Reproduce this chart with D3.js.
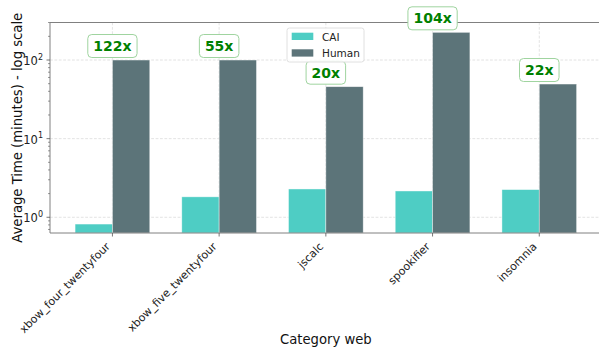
<!DOCTYPE html>
<html>
<head>
<meta charset="utf-8">
<script src="https://cdn.jsdelivr.net/npm/d3@7"></script>
<style>
  html, body { margin: 0; padding: 0; background: #fff; }
  svg { display: block; font-family: "DejaVu Sans", sans-serif; }
</style>
</head>
<body>
<svg id="chart" width="599" height="349"></svg>
<script>
// Average solve time per web challenge, CAI vs Human (minutes)
const categories = ["xbow_four_twentyfour", "xbow_five_twentyfour", "jscalc", "spookifier", "insomnia"];
const seriesNames = ["CAI", "Human"];
const caiMinutes = [0.82, 1.82, 2.29, 2.16, 2.25];
const humanMinutes = [100, 100, 45.8, 225, 49.5];
const speedupLabels = ["122x", "55x", "20x", "104x", "22x"];
const yTickValues = [1, 10, 100];
const yTickExponents = ["0", "1", "2"];

const colors = { CAI: "#4ecdc4", Human: "#5c7479" };
const barWidth = 0.35;

const svg = d3.select("#chart");
const plotLeft = 50, plotTop = 22.5, plotBottom = 233, plotRight = 601.7;

const x = d3.scaleLinear().domain([-0.585, categories.length - 1 + 0.585]).range([plotLeft, plotRight]);
const y = d3.scaleLog().domain([0.631, 300]).range([plotBottom, plotTop]);

// grid
const grid = svg.append("g").attr("stroke", "#dcdcdc").attr("stroke-width", 0.8).attr("stroke-dasharray", "2.8,1.6");
grid.selectAll("line.h").data(yTickValues).join("line")
  .attr("x1", plotLeft).attr("x2", plotRight).attr("y1", d => y(d)).attr("y2", d => y(d));
grid.selectAll("line.v").data(categories.map((c, i) => i)).join("line")
  .attr("y1", plotTop).attr("y2", plotBottom).attr("x1", d => x(d)).attr("x2", d => x(d));

// bars
const series = [
  { name: "CAI", values: caiMinutes, offset: -barWidth },
  { name: "Human", values: humanMinutes, offset: 0 }
];
const gBars = svg.append("g");
series.forEach(s => {
  gBars.selectAll(null).data(s.values).join("rect")
    .attr("x", (d, i) => x(i + s.offset))
    .attr("width", x(barWidth) - x(0))
    .attr("y", d => y(d))
    .attr("height", d => plotBottom - y(d))
    .attr("fill", colors[s.name])
    .attr("stroke", "#ffffff").attr("stroke-opacity", 0.6).attr("stroke-width", 0.7);
});

// axes spines
const spine = "#808080";
svg.append("line").attr("x1", plotLeft).attr("x2", plotLeft).attr("y1", plotTop).attr("y2", plotBottom).attr("stroke", spine).attr("stroke-width", 1);
svg.append("line").attr("x1", plotLeft).attr("x2", plotRight).attr("y1", plotBottom).attr("y2", plotBottom).attr("stroke", spine).attr("stroke-width", 1);
svg.append("line").attr("x1", plotLeft).attr("x2", plotRight).attr("y1", plotTop).attr("y2", plotTop).attr("stroke", spine).attr("stroke-width", 1);

// y axis: major + minor log ticks
const minorTicks = [];
[0.1, 1, 10, 100].forEach(b => { for (let k = 2; k <= 9; k++) { const v = b * k; if (v >= 0.631 && v <= 300) minorTicks.push(v); } });
const yAxis = svg.append("g");
yAxis.selectAll("line.minor").data(minorTicks).join("line")
  .attr("x1", plotLeft - 2).attr("x2", plotLeft).attr("y1", d => y(d)).attr("y2", d => y(d))
  .attr("stroke", "#555").attr("stroke-width", 0.6);
yAxis.selectAll("line.major").data(yTickValues).join("line")
  .attr("x1", plotLeft - 3.5).attr("x2", plotLeft).attr("y1", d => y(d)).attr("y2", d => y(d))
  .attr("stroke", "#555").attr("stroke-width", 0.8);
const yLabels = yAxis.selectAll("text").data(yTickValues).join("text")
  .attr("x", plotLeft - 7).attr("y", d => y(d) + 5.2)
  .attr("text-anchor", "end").attr("fill", "#222");
yLabels.append("tspan").attr("font-size", 11.5).text("10");
yLabels.append("tspan").attr("font-size", 8).attr("dy", -5.5).text((d, i) => yTickExponents[i]);

// x axis ticks and rotated category labels
const xAxis = svg.append("g");
const xIdx = categories.map((c, i) => i);
xAxis.selectAll("line").data(xIdx).join("line")
  .attr("x1", d => x(d)).attr("x2", d => x(d)).attr("y1", plotBottom).attr("y2", plotBottom + 3.5)
  .attr("stroke", "#555").attr("stroke-width", 0.8);
xAxis.selectAll("text").data(xIdx).join("text")
  .attr("x", 0).attr("y", 0)
  .attr("transform", d => `translate(${x(d) - 4.5},${plotBottom + 11.5}) rotate(-45)`)
  .attr("text-anchor", "end").attr("dy", "0.35em")
  .attr("font-size", 11).attr("fill", "#222")
  .text(d => categories[d]);

// axis titles
svg.append("text").attr("x", (plotLeft + plotRight) / 2).attr("y", 343.5)
  .attr("text-anchor", "middle").attr("font-size", 13.2).attr("fill", "#111").text("Category web");
svg.append("text").attr("transform", `translate(21.5,${(plotTop + plotBottom) / 2}) rotate(-90)`)
  .attr("text-anchor", "middle").attr("font-size", 13.2).attr("fill", "#111")
  .text("Average Time (minutes) - log scale");

// speed-up annotations above the taller bar
const ann = svg.append("g");
speedupLabels.forEach((lab, i) => {
  const barTop = y(Math.max(caiMinutes[i], humanMinutes[i]));
  const g = ann.append("g");
  const t = g.append("text").attr("x", x(i)).attr("y", barTop - 14)
    .attr("text-anchor", "middle").attr("dominant-baseline", "central")
    .attr("font-size", 14).attr("font-weight", "bold").attr("fill", "#008000").text(lab);
  const bb = t.node().getBBox();
  g.insert("rect", "text")
    .attr("x", x(i) - bb.width / 2 - 5.5).attr("width", bb.width + 11)
    .attr("y", barTop - 2.5 - 23).attr("height", 23)
    .attr("rx", 4).attr("fill", "#ffffff")
    .attr("stroke", "#9fd49f").attr("stroke-width", 1);
});

// legend
const lg = svg.append("g").attr("transform", "translate(287,28)");
lg.append("rect").attr("width", 77).attr("height", 34).attr("rx", 2.5)
  .attr("fill", "#ffffff").attr("fill-opacity", 0.85).attr("stroke", "#e0e0e0").attr("stroke-width", 1);
seriesNames.forEach((n, i) => {
  lg.append("rect").attr("x", 4.7).attr("y", 4.7 + i * 16.6).attr("width", 21.6).attr("height", 7.3).attr("fill", colors[n]);
  lg.append("text").attr("x", 35).attr("y", 8.5 + i * 16.6).attr("dominant-baseline", "central")
    .attr("font-size", 10.5).attr("fill", "#222").text(n);
});
</script>
</body>
</html>
